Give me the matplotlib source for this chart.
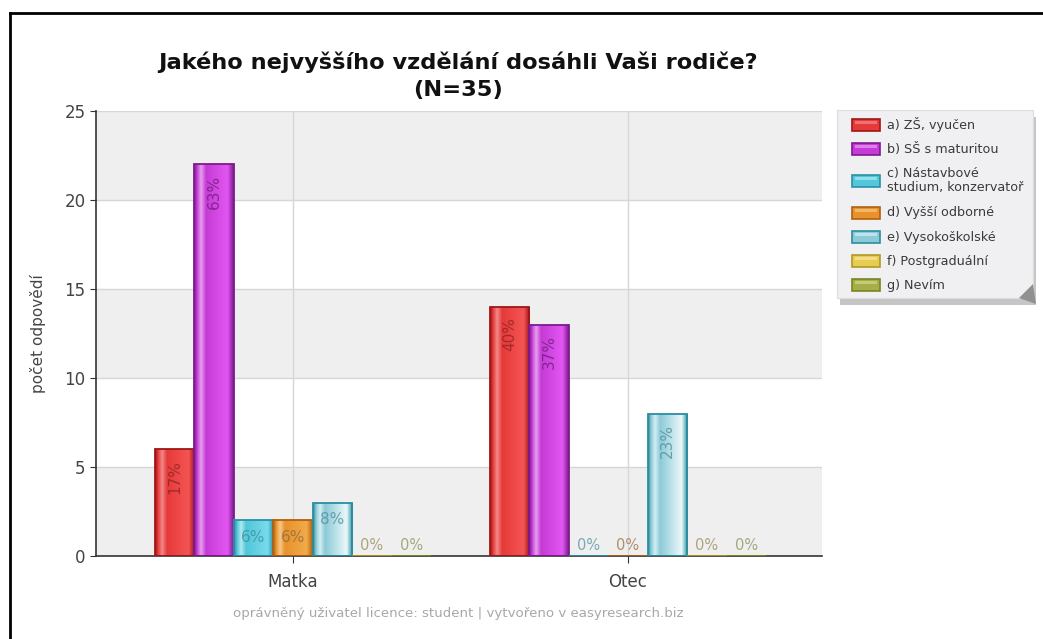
import numpy as np
import matplotlib.pyplot as plt
from matplotlib.colors import LinearSegmentedColormap
from matplotlib.patches import Rectangle, Polygon

plt.rcParams['font.family'] = ['DejaVu Sans']

# Data
categories = ['Matka', 'Otec']
series = ['a) ZŠ, vyučen', 'b) SŠ s maturitou', 'c) Nástavbové\nstudium, konzervatoř',
          'd) Vyšší odborné', 'e) Vysokoškolské', 'f) Postgraduální', 'g) Nevím']
matka = [6, 22, 2, 2, 3, 0, 0]
otec = [14, 13, 0, 0, 8, 0, 0]
matka_pct = ['17%', '63%', '6%', '6%', '8%', '0%', '0%']
otec_pct = ['40%', '37%', '0%', '0%', '23%', '0%', '0%']

# Barvy
base_col = ['#e63a3a', '#c63ad6', '#52c6da', '#e8922c', '#8ccad6', '#e8cc52', '#a6ae48']
edge_col = ['#a01616', '#7c1a8e', '#2a90a6', '#b0600e', '#2a8ea0', '#b09a20', '#7a8420']
light_col = ['#f28a8a', '#e6a0ee', '#b0eaf2', '#f6c88a', '#d2eef4', '#f6e6a0', '#d0d690']
bright_col = ['#f45454', '#e256f2', '#78dcec', '#f2aa4a', '#eaf8fa', '#f2dc70', '#bcc464']
text_col = ['#8a2222', '#6a1c78', '#3c8a98', '#8a6a3a', '#4c8a98', '#a8a070', '#a0a878']
zero_col = ['#a07070', '#a070a8', '#7aaab4', '#ae8e6c', '#7aaab4', '#aca47e', '#a4a87e']

W, H = 1043, 639
fig = plt.figure(figsize=(W / 100, H / 100), dpi=100)
ax = fig.add_axes([96 / W, 83 / H, 726 / W, 445 / H])

x = np.arange(len(categories))
n = len(series)
width = 0.1177

# pruhy pozadí
for k in range(5):
    ax.axhspan(5 * k, 5 * k + 5, facecolor='#efefef' if k % 2 == 0 else '#ffffff', zorder=0, lw=0)

values = np.array([matka, otec])
pcts = [matka_pct, otec_pct]
grad = np.linspace(0, 1, 64).reshape(1, -1)

for i in range(n):
    xs = x + (i - (n - 1) / 2) * width
    vals = values[:, i]
    bars = ax.bar(xs, vals, width, color=base_col[i], edgecolor='none', zorder=2)
    cmap = LinearSegmentedColormap.from_list(
        'g%d' % i,
        [(0, edge_col[i]), (0.07, base_col[i]), (0.17, light_col[i]), (0.3, base_col[i]),
         (0.85, bright_col[i]), (1, edge_col[i])])
    for b in bars:
        if b.get_height() <= 0:
            continue
        im = ax.imshow(grad, extent=[b.get_x(), b.get_x() + b.get_width(), 0, b.get_height()],
                       aspect='auto', cmap=cmap, zorder=2.5, interpolation='bilinear')
        im.set_clip_path(b)
    ax.bar(xs, vals, width, fill=False, edgecolor=edge_col[i], linewidth=1.3, zorder=3)
    for j, (xx, v) in enumerate(zip(xs, vals)):
        lab = pcts[j][i]
        if v == 0:
            ax.text(xx, 0.6, lab, ha='center', va='center', fontsize=10.5, color=zero_col[i], zorder=4)
        elif v >= 5:
            ax.text(xx, v - 0.6, lab, ha='center', va='top', rotation=90, fontsize=11,
                    color=text_col[i], alpha=0.75, zorder=4)
        else:
            ax.text(xx, v - 0.55, lab, ha='center', va='top', fontsize=11,
                    color=text_col[i], alpha=0.75, zorder=4)

ax.set_xlim(-0.588, 1.579)
ax.set_ylim(0, 25)
ax.set_xticks(x)
ax.set_xticklabels(categories, fontsize=12, color='#444444')
ax.set_yticks(np.arange(0, 26, 5))
ax.tick_params(axis='y', labelsize=12, labelcolor='#444444', length=4, color='#333333')
ax.tick_params(axis='x', length=5, color='#333333', pad=7)
ax.set_axisbelow(True)
ax.grid(True, color='#d6d6d6', linewidth=1)
for s in ['top', 'right']:
    ax.spines[s].set_visible(False)
for s in ['left', 'bottom']:
    ax.spines[s].set_color('#333333')
    ax.spines[s].set_linewidth(1.2)
ax.set_ylabel('počet odpovědí', fontsize=11, color='#444444', labelpad=13)

# nadpis
fig.text(458 / W, 1 - 62 / H, 'Jakého nejvyššího vzdělání dosáhli Vaši rodiče?', ha='center', va='center',
         fontsize=16.2, fontweight='bold', color='#111111')
fig.text(458 / W, 1 - 90 / H, '(N=35)', ha='center', va='center',
         fontsize=16.2, fontweight='bold', color='#111111')

# legenda
lx0, ly0, lx1, ly1 = 837, 110, 1033, 298
fig.patches.append(Rectangle(((lx0 + 3) / W, 1 - (ly1 + 7) / H), (lx1 - lx0) / W, (ly1 - ly0) / H,
                             transform=fig.transFigure, facecolor='#8c8c8c', edgecolor='none', alpha=0.5))
fig.patches.append(Rectangle((lx0 / W, 1 - ly1 / H), (lx1 - lx0) / W, (ly1 - ly0) / H,
                             transform=fig.transFigure, facecolor='#f0f0f2', edgecolor='#dddddd', lw=0.8))
fig.patches.append(Polygon([((lx1 - 14) / W, 1 - ly1 / H), (lx1 / W, 1 - (ly1 - 14) / H),
                            ((lx1 + 3) / W, 1 - (ly1 + 6) / H)],
                           closed=True, transform=fig.transFigure, facecolor='#909090', edgecolor='none'))
row_y = [125, 149, 181, 213, 237, 261, 285]
for i, lab in enumerate(series):
    yc = row_y[i]
    fig.patches.append(Rectangle((852 / W, 1 - (yc + 6) / H), 28 / W, 12 / H, transform=fig.transFigure,
                                 facecolor=base_col[i], edgecolor=edge_col[i], lw=1.2))
    fig.patches.append(Rectangle((855 / W, 1 - (yc - 1) / H), 22 / W, 3 / H, transform=fig.transFigure,
                                 facecolor=light_col[i], edgecolor='none', alpha=0.7))
    fig.text(887 / W, 1 - yc / H, lab, ha='left', va='center', fontsize=9.2, color='#3a3a3a',
             linespacing=1.1)

# patička
fig.text(458 / W, 1 - 613 / H, 'oprávněný uživatel licence: student | vytvořeno v easyresearch.biz',
         ha='center', va='center', fontsize=9.6, color='#a8a8a8')

# rámeček
fig.add_artist(plt.Line2D([10 / W, 10 / W], [0, 1 - 13 / H], transform=fig.transFigure, color='black', lw=2))
fig.add_artist(plt.Line2D([10 / W, 1], [1 - 13 / H, 1 - 13 / H], transform=fig.transFigure, color='black', lw=2))

plt.savefig('out.png', dpi=100)
